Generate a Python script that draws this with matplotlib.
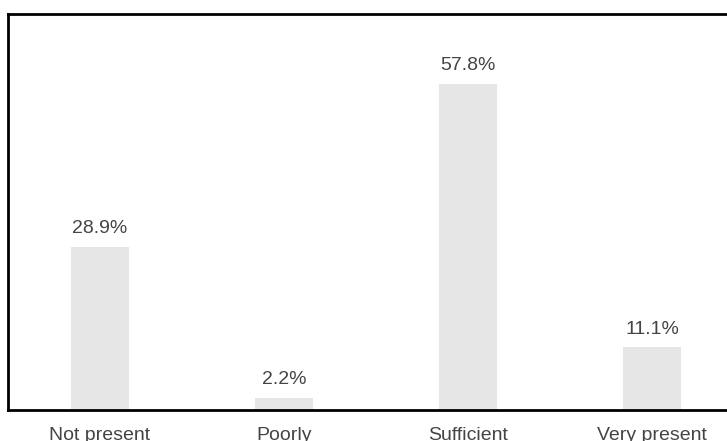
import matplotlib
matplotlib.use("Agg")
from matplotlib import pyplot as plt

categories = ["Not present", "Poorly", "Sufficient", "Very present"]
values = [28.9, 2.2, 57.8, 11.1]
value_labels = ["28.9%", "2.2%", "57.8%", "11.1%"]

plt.rcParams['font.family'] = ['Liberation Sans', 'DejaVu Sans']

fig = plt.figure(figsize=(7.27, 4.41), dpi=100)
# right edge of the frame is cut off in the reference
ax = fig.add_axes([8 / 727, 31 / 441, 736 / 727, 396 / 441])

x = range(len(categories))
ax.bar(x, values, width=0.315, color="#e6e6e6")

for i, v in enumerate(values):
    ax.annotate(value_labels[i], (i, v), xytext=(0, 7), textcoords="offset points",
                ha="center", va="bottom", fontsize=14, color="#444444")

ax.set_xlim(-0.5, 3.5)
ax.set_ylim(0, 70.2)
ax.set_xticks(list(x))
ax.set_xticklabels(categories, fontsize=14, color="#444444")
ax.tick_params(axis="x", length=0, pad=12)
ax.set_yticks([])
for s in ax.spines.values():
    s.set_linewidth(2)
    s.set_color("black")

fig.savefig("out.png", dpi=100)
